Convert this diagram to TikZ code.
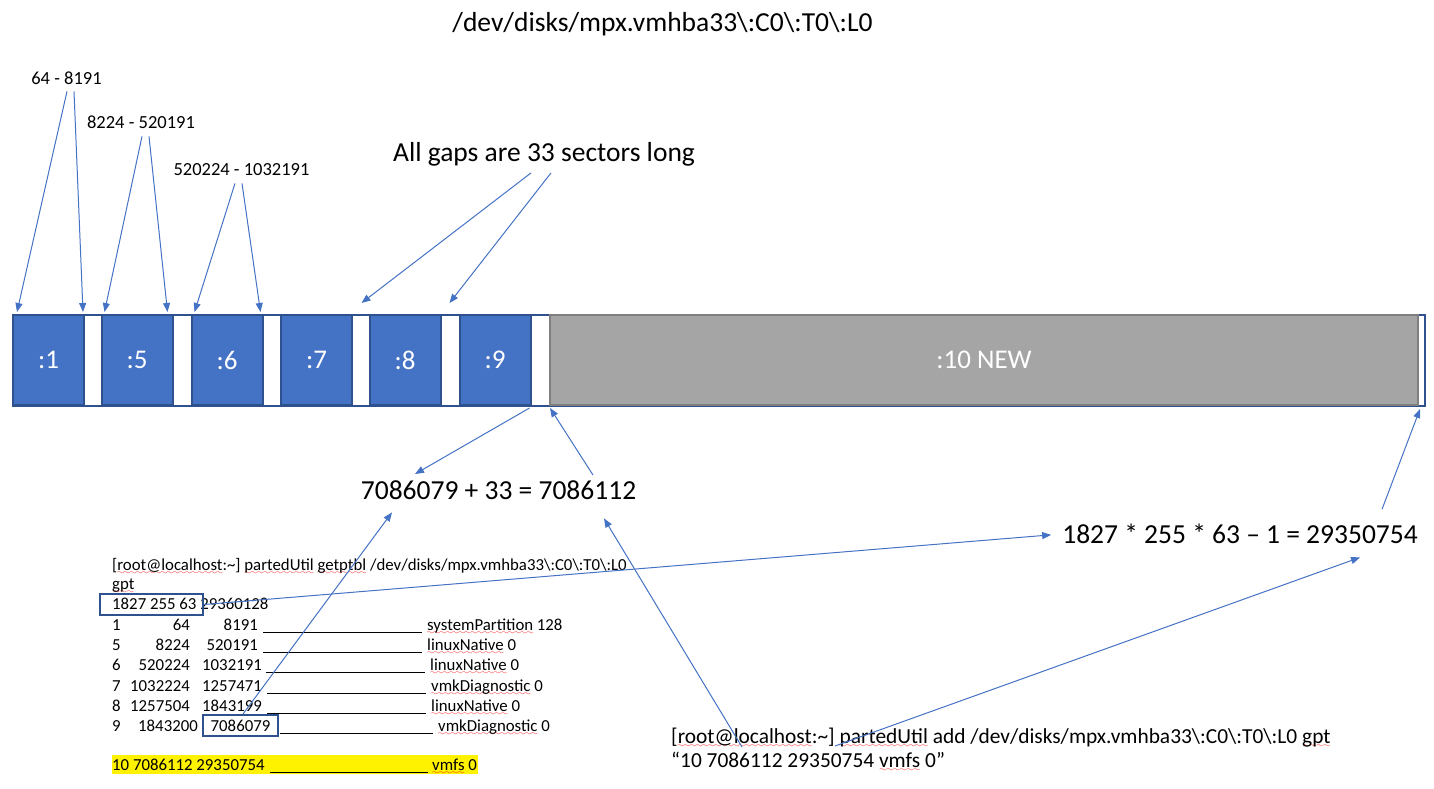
\documentclass[tikz,border=0pt]{standalone}
\usepackage{fontspec}
\setmainfont{Carlito}
\usetikzlibrary{arrows.meta,calc}
\definecolor{partblue}{HTML}{4472C4}
\definecolor{partedge}{HTML}{2F528F}
\definecolor{newgrey}{HTML}{A5A5A5}
\definecolor{newedge}{HTML}{7F7F7F}
\font\sqfont=lasy6 scaled 1200
\newcommand\spell[1]{\setbox0=\hbox{#1}\rlap{\lower4pt\hbox to \wd0{\color{red}\xleaders\hbox{\sqfont\char58}\hfil}}\box0\relax}
\tikzset{
  part/.style={draw=partedge,fill=partblue,line width=2pt,minimum width=71pt,minimum height=90pt,inner sep=0pt,text=white,font=\fontsize{27}{32}\selectfont},
  ptr/.style={draw=partblue,line width=1pt,-{Triangle[length=9pt,width=7pt]}},
  big/.style={font=\fontsize{27.5}{32}\selectfont,inner sep=0pt},
  rangelbl/.style={font=\fontsize{18.5}{22}\selectfont,inner sep=0pt,anchor=base},
  tbl/.style={font=\fontsize{16.8}{20}\selectfont,inner sep=0pt},
  cmd/.style={font=\fontsize{21.4}{25}\selectfont,inner sep=0pt,anchor=base west},
  boxmark/.style={draw=partedge,line width=2pt,inner sep=0pt}
}
\begin{document}
\begin{tikzpicture}[x=1pt,y=-1pt]
\useasboundingbox (0,0) rectangle (1434,788);
\node[big,anchor=base] (title) at (662.5,31) {/dev/disks/mpx.vmhba33\textbackslash:C0\textbackslash:T0\textbackslash:L0};

\node[draw=partedge,line width=2pt,minimum width=1412pt,minimum height=91pt,inner sep=0pt] (disk) at (719,360.5) {};
\foreach \n/\x in {1/48.5,5/137,6/227,7/316.5,8/405,9/495}
  \node[part] (p\n) at (\x,360) {:\n};
\node[part,fill=newgrey,draw=newedge,minimum width=868pt] (p10) at (984,360) {:10 NEW};

\node[rangelbl] (r1) at (66.5,84) {64 - 8191};
\node[rangelbl] (r5) at (141,128) {8224 - 520191};
\node[rangelbl] (r6) at (241.5,175) {520224 - 1032191};
\draw[ptr] ($(r1.south)+(0.5,7)$) -- ($(p1.north west)+(5,-2)$);
\draw[ptr] ($(r1.south)+(7.5,7)$) -- ($(p1.north east)+(-2,-2)$);
\draw[ptr] ($(r5.south)+(1,8)$) -- ($(p5.north west)+(4,-2)$);
\draw[ptr] ($(r5.south)+(8,8)$) -- ($(p5.north east)+(-6,-2)$);
\draw[ptr] ($(r6.south)+(-6.5,8)$) -- ($(p6.north west)+(4,-2)$);
\draw[ptr] ($(r6.south)+(0.5,8)$) -- ($(p6.north east)+(-3,-2)$);

\node[big,anchor=base] (gaps) at (544,161) {All gaps are 33 sectors long};
\draw[ptr] ($(gaps.south)+(-13,7)$) -- ($(p8.north west)+(-7,-11)$);
\draw[ptr] ($(gaps.south)+(7,7)$) -- ($(p9.north west)+(-9,-11)$);

\node[big,anchor=base] (sum) at (498.5,499) {7086079 + 33 = 7086112};
\draw[ptr] ($(p9.south east)+(-2,2)$) -- ($(sum.north)+(-83.5,-6)$);
\draw[ptr] ($(sum.north)+(94.5,-5)$) -- ($(p10.south west)+(1,2)$);

\node[big,anchor=base] (chsfm) at (1240,543) {1827 * 255 * 63 – 1 = 29350754};
\draw[ptr] ($(chsfm.north)+(142,-14)$) -- ($(p10.south east)+(1,3)$);

\node[tbl,anchor=base west] (getp) at (112,570) {[\spell{root@localhost}:\textasciitilde] \spell{partedUtil} \spell{getptbl} /dev/disks/mpx.vmhba33\textbackslash:C0\textbackslash:T0\textbackslash:L0};
\node[tbl,anchor=base west] (gpt) at (112,589) {\spell{gpt}};
\node[tbl,anchor=base west] (geom) at (112,609) {1827 255 63 29360128};
\node[boxmark,minimum width=103pt,minimum height=21pt] (chs) at (151.5,604.5) {};
\foreach \n/\s/\e/\t/\v/\y/\a/\b in {1/64/8191/systemPartition/128/630/258/263,5/8224/520191/linuxNative/0/650/258/263,6/520224/1032191/linuxNative/0/670/262/266,7/1032224/1257471/vmkDiagnostic/0/691/262/267,8/1257504/1843199/linuxNative/0/711/262/267}{
  \node[tbl,anchor=base west] (c\n) at (112,\y) {\n};
  \node[tbl,anchor=base east] (s\n) at (190,\y) {\s};
  \node[tbl,anchor=base east] (e\n) at (\a,\y) {\e};
  \draw[line width=0.8pt] (\b,\y+2) -- (\b+159,\y+2);
  \node[tbl,anchor=base west] (t\n) at (\b+164,\y) {\spell{\t} \v};
}
\node[tbl,anchor=base west] (c9) at (112,731) {9};
\node[tbl,anchor=base east] (s9) at (198,731) {1843200};
\node[tbl,boxmark,minimum width=75pt,minimum height=21pt] (e9) at (240.5,725.5) {7086079};
\draw[line width=0.8pt] (280,733) -- (433,733);
\node[tbl,anchor=base west] (t9) at (438,731) {\spell{vmkDiagnostic} 0};

\node[fill=yellow,minimum width=366pt,minimum height=19pt,inner sep=0pt] (hl) at (295,764.5) {};
\node[tbl,anchor=base west] (c10) at (112,770) {10 7086112 29350754};
\draw[line width=0.8pt] (270,772) -- (428,772);
\node[tbl,anchor=base west] (t10) at (432,770) {\spell{vmfs} 0};

\node[cmd] (cmd1) at (671,743) {[\spell{root@localhost}:\textasciitilde] \spell{partedUtil} add /dev/disks/mpx.vmhba33\textbackslash:C0\textbackslash:T0\textbackslash:L0 \spell{gpt}};
\node[cmd] (cmd2) at (671,767) {“10 7086112 29350754 \spell{vmfs} 0”};

\draw[ptr] (chs.east) -- ($(chsfm.west)+(-11,1.5)$);
\draw[ptr] ($(e9.north)+(2.5,0)$) -- ($(sum.south)+(-106.5,13)$);
\draw[ptr] ($(cmd1.base west)+(71,4)$) -- ($(sum.south)+(105.5,19)$);
\draw[ptr] ($(cmd1.base west)+(164,3)$) -- ($(chsfm.south)+(120,14)$);
\end{tikzpicture}
\end{document}
